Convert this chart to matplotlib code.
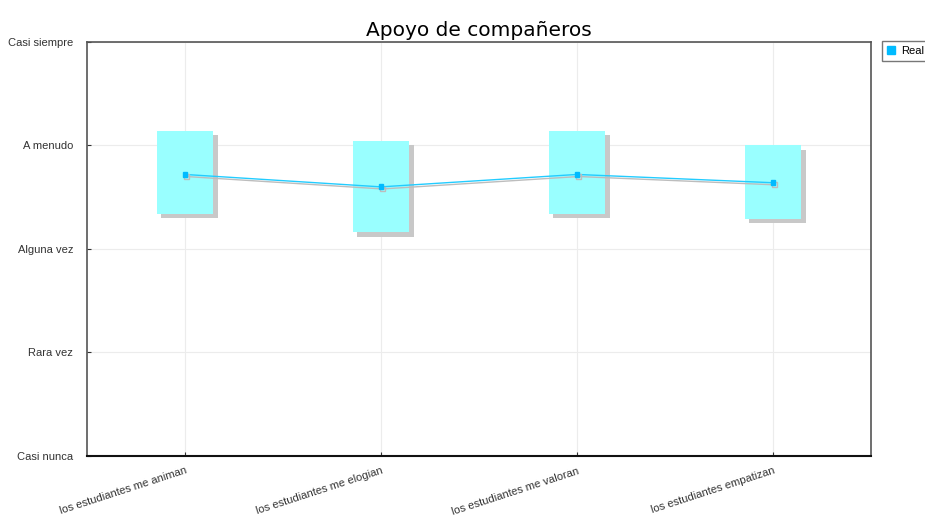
import matplotlib
matplotlib.use("Agg")
import matplotlib.pyplot as plt
import matplotlib.patheffects as pe
import numpy as np

# data
categories = ["los estudiantes me animan", "los estudiantes me elogian",
              "los estudiantes me valoran", "los estudiantes empatizan"]
means = [3.72, 3.60, 3.72, 3.64]
upper = [4.14, 4.04, 4.14, 4.00]
lower = [3.34, 3.16, 3.34, 3.29]
level_labels = ["Casi nunca", "Rara vez", "Alguna vez", "A menudo", "Casi siempre"]
level_values = [1, 2, 3, 4, 5]

narrow = ["Liberation Sans Narrow", "Liberation Sans", "DejaVu Sans"]

fig = plt.figure(figsize=(9.25, 5.18), dpi=100)
ax = fig.add_axes([0.094, 0.1197, 0.8476, 0.7993])

x = np.arange(len(categories))
heights = [u - l for u, l in zip(upper, lower)]

box_shadow = [pe.SimplePatchShadow(offset=(3, -3), shadow_rgbFace="#c8c8c8", alpha=1.0),
              pe.Normal()]
ax.bar(x, heights, bottom=lower, width=0.29, color="#99ffff",
       edgecolor="none", zorder=2, path_effects=box_shadow)

line_shadow = [pe.SimpleLineShadow(offset=(1, -1.5), shadow_color="#bdbdbd", alpha=1.0),
               pe.Normal()]
ax.plot(x, means, color="#22ccff", lw=1.0, marker="s", markersize=3.5,
        markerfacecolor="#00bbff", markeredgecolor="#00bbff",
        zorder=3, path_effects=line_shadow, label="Real")

ax.set_xlim(-0.5, len(categories) - 0.5)
ax.set_ylim(1, 5)
ax.set_yticks(level_values)
ax.set_yticklabels(level_labels, family=narrow)
ax.set_xticks(x)
ax.set_xticklabels(categories, rotation=18, ha="right", rotation_mode="anchor",
                   family=narrow)

ax.grid(True, color="#ececec", lw=0.8, zorder=0)
ax.set_axisbelow(True)
ax.tick_params(axis="both", direction="in", length=3, color="#333333",
               labelsize=8, labelcolor="#333333")
ax.tick_params(axis="y", pad=10)
ax.tick_params(axis="x", pad=7)
for side in ["top", "right", "left"]:
    ax.spines[side].set_color("#555555")
    ax.spines[side].set_linewidth(1.2)
ax.spines["bottom"].set_color("#111111")
ax.spines["bottom"].set_linewidth(1.5)

ax.set_title("Apoyo de compañeros", fontsize=14.5, pad=4)

handles = [plt.Line2D([], [], marker="s", color="none", markerfacecolor="#00bbff",
                      markeredgecolor="#00bbff", markersize=6)]
fig.legend(handles, ["Real"], loc="upper left", bbox_to_anchor=(882 / 925, 1 - 41 / 518),
           fontsize=8, frameon=True, fancybox=False, edgecolor="#555555",
           handlelength=0.8, handletextpad=0.5, borderpad=0.45, borderaxespad=0,
           prop={"family": narrow, "size": 8})

fig.savefig("out.png", dpi=100)
